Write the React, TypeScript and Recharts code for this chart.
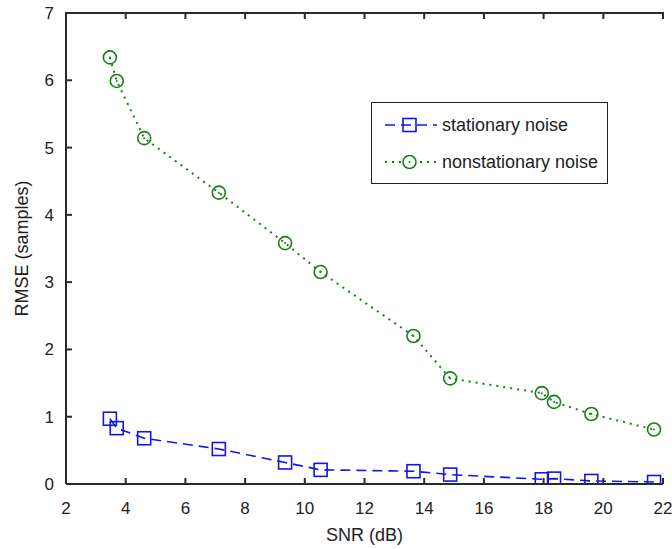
import React from 'react';
import { LineChart, Line, XAxis, YAxis, Legend } from 'recharts';

const snr = [3.47, 3.7, 4.62, 7.12, 9.34, 10.53, 13.64, 14.87, 17.94, 18.35, 19.6, 21.7];
const stationary = [0.97, 0.83, 0.68, 0.52, 0.32, 0.21, 0.19, 0.14, 0.07, 0.08, 0.045, 0.03];
const nonstationary = [6.34, 5.99, 5.14, 4.33, 3.58, 3.15, 2.2, 1.57, 1.35, 1.22, 1.04, 0.81];
const xTicks = [2, 4, 6, 8, 10, 12, 14, 16, 18, 20, 22];
const yTicks = [0, 1, 2, 3, 4, 5, 6, 7];
const seriesNames = ['stationary noise', 'nonstationary noise'];

const data = snr.map((s, i) => ({ snr: s, stationary: stationary[i], nonstationary: nonstationary[i] }));

const BLUE = '#1414e6';
const GREEN = '#168016';
const AXIS = '#2a2a2a';
const FONT = '"Liberation Sans", Arial, sans-serif';
const TICK_LEN = 6;

const CHART_W = 672;
const CHART_H = 549;
const MARGIN = { top: 13, right: 9, left: 0, bottom: 0 };
const Y_AXIS_W = 66;
const X_AXIS_H = 65;
const PLOT_H = CHART_H - MARGIN.top - X_AXIS_H;
const PLOT_W = CHART_W - MARGIN.left - MARGIN.right - Y_AXIS_W;
const PLOT_LEFT = MARGIN.left + Y_AXIS_W;

const BottomTick = (props: any) => {
  const { x, y, payload } = props;
  const top = y - PLOT_H;
  return (
    <>
      <path
        d={`M${x},${y}v${-TICK_LEN}M${x},${top}v${TICK_LEN}M${PLOT_LEFT - 1},${top}h${PLOT_W + 2}`}
        stroke={AXIS}
        strokeWidth={2}
        fill="none"
      />
      <text x={x} y={y + 30} textAnchor="middle" fontSize={17} fontFamily={FONT} fill="#222">
        {payload.value}
      </text>
    </>
  );
};

const LeftTick = (props: any) => {
  const { x, y, payload } = props;
  return (
    <>
      <path d={`M${x},${y}h${TICK_LEN}`} stroke={AXIS} strokeWidth={2} fill="none" />
      <text x={x - 12} y={y + 6} textAnchor="end" fontSize={17} fontFamily={FONT} fill="#222">
        {payload.value}
      </text>
    </>
  );
};

const RightTick = (props: any) => {
  const { x, y } = props;
  return <path d={`M${x},${y}h${-TICK_LEN}`} stroke={AXIS} strokeWidth={2} fill="none" />;
};

const SquareDot = (props: any) => {
  const { cx, cy } = props;
  if (cx == null || cy == null) return null;
  return <rect x={cx - 6.5} y={cy - 6.5} width={13} height={13} fill="none" stroke={BLUE} strokeWidth={1.6} />;
};

const CircleDot = (props: any) => {
  const { cx, cy } = props;
  if (cx == null || cy == null) return null;
  return (
    <g>
      <circle cx={cx} cy={cy} r={6.5} fill="none" stroke={GREEN} strokeWidth={1.6} />
      <circle cx={cx} cy={cy} r={1} fill={GREEN} />
    </g>
  );
};

const LegendBox = () => (
  <div
    style={{
      width: 237,
      height: 82,
      boxSizing: 'border-box',
      border: '1.5px solid #222',
      background: '#fff',
    }}
  >
    <svg width={234} height={79} style={{ display: 'block' }}>
      <line x1={13} y1={22} x2={65} y2={22} stroke={BLUE} strokeWidth={1.6} strokeDasharray="10 6" />
      <rect x={31} y={15.5} width={13} height={13} fill="none" stroke={BLUE} strokeWidth={1.6} />
      <text x={70} y={28} fontSize={18} fontFamily={FONT} fill="#222">{seriesNames[0]}</text>
      <line x1={13} y1={59} x2={65} y2={59} stroke={GREEN} strokeWidth={2} strokeDasharray="2 5" />
      <circle cx={37.5} cy={59} r={6.5} fill="#fff" stroke={GREEN} strokeWidth={1.6} />
      <circle cx={37.5} cy={59} r={1} fill={GREEN} />
      <text x={70} y={65} fontSize={18} fontFamily={FONT} fill="#222">{seriesNames[1]}</text>
    </svg>
  </div>
);

const YLabel = (props: any) => {
  const { viewBox } = props;
  const cy = viewBox.y + viewBox.height / 2;
  const cx = 22;
  return (
    <text
      x={cx}
      y={cy}
      transform={`rotate(-90 ${cx} ${cy})`}
      textAnchor="middle"
      dominantBaseline="central"
      fontSize={18}
      fontFamily={FONT}
      fill="#222"
    >
      RMSE (samples)
    </text>
  );
};

export default function App() {
  return (
    <div style={{ position: 'absolute', left: 0, top: 0, width: CHART_W, height: CHART_H, background: '#fff' }}>
      <LineChart width={CHART_W} height={CHART_H} data={data} margin={MARGIN}>
        <XAxis
          dataKey="snr"
          type="number"
          domain={[2, 22]}
          ticks={xTicks}
          height={X_AXIS_H}
          tickSize={0}
          tickMargin={0}
          tick={<BottomTick />}
          axisLine={{ stroke: AXIS, strokeWidth: 2 }}
          tickLine={false}
          interval={0}
          allowDataOverflow
          label={{ value: 'SNR (dB)', position: 'insideBottom', offset: 8, fontSize: 18, fontFamily: FONT, fill: '#222' }}
        />
        <YAxis
          type="number"
          domain={[0, 7]}
          ticks={yTicks}
          width={Y_AXIS_W}
          tickSize={0}
          tickMargin={0}
          tick={<LeftTick />}
          axisLine={{ stroke: AXIS, strokeWidth: 2 }}
          tickLine={false}
          interval={0}
          allowDataOverflow
          label={<YLabel />}
        />
        <YAxis
          yAxisId="yr"
          orientation="right"
          type="number"
          domain={[0, 7]}
          ticks={yTicks}
          width={0}
          tickSize={0}
          tickMargin={0}
          tick={<RightTick />}
          axisLine={{ stroke: AXIS, strokeWidth: 2 }}
          tickLine={false}
          interval={0}
          allowDataOverflow
        />
        <Legend
          layout="vertical"
          align="center"
          verticalAlign="middle"
          content={<LegendBox />}
          wrapperStyle={{ position: 'absolute', left: 371, top: 102, width: 237, height: 82 }}
        />
        <Line
          type="linear"
          dataKey="stationary"
          stroke={BLUE}
          strokeWidth={1.6}
          strokeDasharray="10 6"
          dot={<SquareDot />}
          activeDot={false}
          isAnimationActive={false}
        />
        <Line
          type="linear"
          dataKey="nonstationary"
          yAxisId="yr"
          stroke={GREEN}
          strokeWidth={2}
          strokeDasharray="2 5"
          dot={<CircleDot />}
          activeDot={false}
          isAnimationActive={false}
        />
      </LineChart>
    </div>
  );
}
